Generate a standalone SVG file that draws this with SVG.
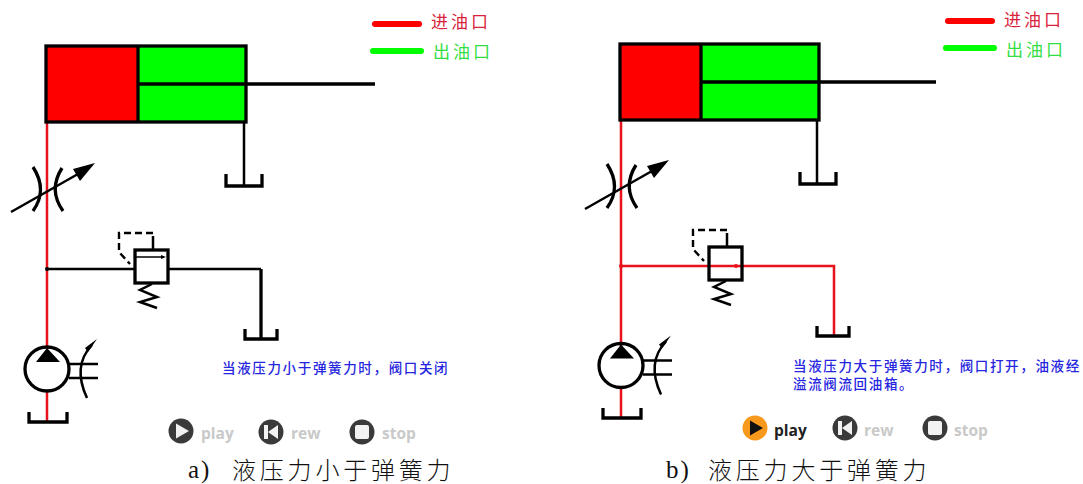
<svg xmlns="http://www.w3.org/2000/svg" width="1083" height="484" viewBox="0 0 1083 484">
<style>
.k{fill:none;stroke:#000;stroke-width:3.3}
.t{fill:none;stroke:#000;stroke-width:2.5}
.r{fill:none;stroke:#e8121c;stroke-width:2.5}
.d{fill:none;stroke:#000;stroke-width:2.4;stroke-dasharray:7 4}
.leg{font-family:"Noto Sans CJK SC",sans-serif;font-size:17px;letter-spacing:3px}
.note{font-family:"Noto Sans CJK SC",sans-serif;font-size:13.5px;letter-spacing:1.65px;fill:#2626e0;font-weight:500}
.cap{font-family:"Noto Sans CJK SC",sans-serif;font-size:24px;letter-spacing:3.8px;fill:#111;font-weight:300}
.lat{font-family:"Liberation Serif",serif;font-size:25px;letter-spacing:2px;fill:#111}
.btn{font-family:"Open Sans",sans-serif;font-weight:700;font-size:15.5px;fill:#c9c9c9}
</style>
<defs>
<g id="throttle">
<path class="k" d="M33 167Q48 190 33 211"/>
<path class="k" d="M62 168Q48 190 63 211"/>
<path class="t" d="M11 212L78 174"/>
<path d="M95 163L80 181L73 169Z" fill="#000"/>
</g>
<g id="pump">
<circle class="k" cx="47" cy="369" r="22" fill="#fff"/>
<path d="M47 348L60 362H36Z" fill="#000"/>
<path class="t" d="M69 364H98M69 378H98"/>
<path class="t" d="M92 345Q72 366 87 398"/>
<path d="M97 339L88 352L85 348Z" fill="#000"/>
</g>
<g id="valve">
<path class="d" d="M153 233H119V252L130 264"/>
<path class="t" d="M153 236V250"/>
<rect class="k" x="135" y="250" width="33" height="33"/>
<path fill="none" stroke="#000" stroke-width="2.5" d="M152 284L140 290L157 297L140 302L157 308"/>
</g>
<g id="tankWide"><path class="k" d="M29 412V422H67V412"/></g>
<g id="tankUp"><path class="k" d="M226 174V186H262V174"/></g>
<g id="tankLow"><path class="k" d="M245 329V339H277V329"/></g>
<g id="playI"><circle cx="0" cy="0" r="12.5" fill="#3a3a3a"/><path d="M-5-7.500L8 0L-5 7.500Z" fill="#f2f2f2"/></g>
<g id="rewI"><circle cx="0" cy="0" r="12.5" fill="#3a3a3a"/><path d="M-7-7H-3V7H-7ZM7-7V7L-3 0Z" fill="#f2f2f2"/></g>
<g id="stopI"><circle cx="0" cy="0" r="12.5" fill="#3a3a3a"/><rect x="-7" y="-7" width="14" height="14" rx="2" fill="#f2f2f2"/></g>
</defs>

<g id="connectors">
<path class="r" d="M47 122V349M47 391V421"/>
<path class="t" d="M47 269H135M168 269H261"/>
<path class="k" d="M261 269V338"/>
<path class="t" d="M244 122V185"/>
<path fill="none" stroke="#000" stroke-width="1.5" d="M135 257H164"/>
<path class="r" d="M621 120V346M621 388V418"/>
<path class="r" d="M621 266H834V335"/>
<path class="t" d="M817 120V183"/>
<path d="M166 257L161 255V259Z" fill="#000"/>
</g>

<g id="cylinder-a">
<rect x="46" y="46" width="92" height="76" fill="#f00"/>
<rect x="138" y="46" width="108" height="76" fill="#0f0"/>
<rect class="k" x="46" y="46" width="200" height="76"/>
<path class="k" d="M138 46V122M138 84H375"/>
</g>
<g id="throttle-a"><use href="#throttle"/></g>
<g id="valve-a"><use href="#valve"/></g>
<g id="pump-a"><use href="#pump"/></g>
<g id="tank-a1"><use href="#tankUp"/></g>
<g id="tank-a2"><use href="#tankLow"/></g>
<g id="tank-a3"><use href="#tankWide"/></g>
<circle cx="47" cy="269" r="2" fill="#000"/>

<g id="cylinder-b">
<rect x="620" y="44" width="81" height="76" fill="#f00"/>
<rect x="701" y="44" width="118" height="76" fill="#0f0"/>
<rect class="k" x="620" y="44" width="199" height="76"/>
<path class="k" d="M701 44V120M701 82H936"/>
</g>
<g id="throttle-b"><use href="#throttle" x="574" y="-3"/></g>
<g id="valve-b"><use href="#valve" x="574" y="-3"/></g>
<g id="pump-b"><use href="#pump" x="574" y="-3.5"/></g>
<g id="tank-b1"><use href="#tankUp" x="574" y="-2"/></g>
<g id="tank-b2"><use href="#tankLow" x="572" y="-3"/></g>
<g id="tank-b3"><use href="#tankWide" x="574" y="-4"/></g>
<circle cx="621" cy="266" r="2" fill="#e8121c"/>
<circle cx="736" cy="266" r="2" fill="#e8121c"/>

<g id="legend-a">
<path d="M375 24H419" stroke="#f00" stroke-width="6" stroke-linecap="round"/>
<path d="M373 51H421" stroke="#0f0" stroke-width="6" stroke-linecap="round"/>
<text class="leg" x="431" y="28" fill="#d8233a">进油口</text>
<text class="leg" x="433" y="58" fill="#33dd44">出油口</text>
</g>
<g id="legend-b">
<path d="M948 21H992" stroke="#f00" stroke-width="6" stroke-linecap="round"/>
<path d="M946 48H994" stroke="#0f0" stroke-width="6" stroke-linecap="round"/>
<text class="leg" x="1004" y="26" fill="#d8233a">进油口</text>
<text class="leg" x="1006" y="56" fill="#33dd44">出油口</text>
</g>

<g id="note-a"><text class="note" x="222" y="373">当液压力小于弹簧力时，阀口关闭</text></g>
<g id="note-b">
<text class="note" x="793" y="371">当液压力大于弹簧力时，阀口打开，油液经</text>
<text class="note" x="793" y="389">溢流阀流回油箱。</text>
</g>

<g id="controls-a">
<use href="#playI" x="181" y="431"/><text class="btn" x="201" y="439">play</text>
<use href="#rewI" x="271" y="432"/><text class="btn" x="291" y="439">rew</text>
<use href="#stopI" x="362" y="432"/><text class="btn" x="382" y="439">stop</text>
</g>
<g id="controls-b">
<circle cx="755" cy="428" r="12.5" fill="#f7991c"/><path d="M750 420.500L763 428L750 435.500Z" fill="#111"/>
<text class="btn" x="774" y="436" style="fill:#222">play</text>
<use href="#rewI" x="845" y="428"/><text class="btn" x="864" y="436">rew</text>
<use href="#stopI" x="935" y="428"/><text class="btn" x="954" y="436">stop</text>
</g>

<g id="caption-a"><text class="lat" x="188" y="478">a)</text><text class="cap" x="232" y="479">液压力小于弹簧力</text></g>
<g id="caption-b"><text class="lat" x="666" y="478">b)</text><text class="cap" x="708" y="479">液压力大于弹簧力</text></g>
</svg>
